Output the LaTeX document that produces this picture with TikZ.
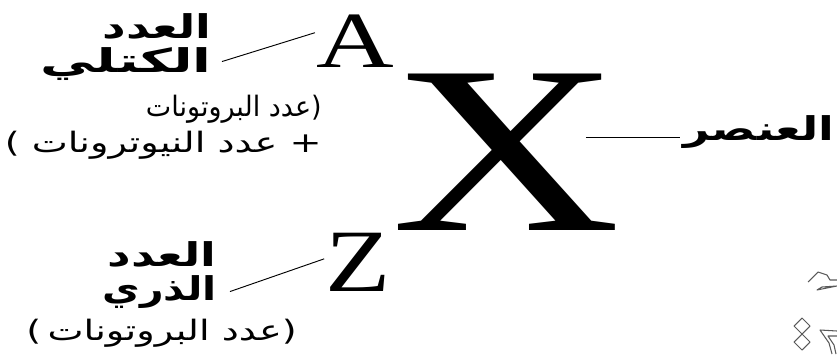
\documentclass[tikz,border=0pt]{standalone}
\usepackage{fontspec}
\setmainfont{Liberation Serif}
\newfontfamily\arabicfont[Script=Arabic]{DejaVu Sans}
\newfontfamily\markfont{DejaVu Sans}
\TeXXeTstate=1
\newcommand\arwide[2][1.4]{\scalebox{#1}[1]{#2}}
\newcommand\rtl[1]{\beginR #1\endR}
\tikzset{
  letter/.style={inner sep=0pt, anchor=base},
  artitle/.style={inner sep=0pt, anchor=base east, font=\arabicfont\bfseries\fontsize{28}{32}\selectfont},
  arnote/.style={inner sep=0pt, anchor=base east, font=\arabicfont\fontsize{24}{28}\selectfont},
  pointer/.style={line width=0.8pt},
  deco/.style={draw=black!65, line width=0.9pt, line join=round}
}
\begin{document}
\begin{tikzpicture}[x=0.03cm, y=-0.03cm]
\useasboundingbox (0,0) rectangle (837,354);
% symbols
\node[letter, font=\fontsize{204}{204}\selectfont] (elemX) at (506,230) {\scalebox{1.33}[1]{X}};
\node[letter, font=\fontsize{68}{68}\selectfont] (massA) at (355,67) {\scalebox{1.35}[1]{A}};
\node[letter, font=\fontsize{76}{76}\selectfont] (atomZ) at (358,291) {\scalebox{1.2}[1]{Z}};
% mass number
\node[artitle] (mass1) at (212,38) {\arwide{\rtl{العدد}}};
\node[artitle] (mass2) at (212,72) {\arwide[1.67]{\rtl{الكتلي}}};
\node[arnote] (mass3) at (322,116) {\arwide[0.96]{\rtl{عدد البروتونات}{\markfont)}}};
\node[arnote] (mass4) at (322,152) {\arwide[1.36]{{\markfont(} \rtl{عدد النيوترونات} {\markfont+}}};
% atomic number
\node[artitle] (atom1) at (217,266) {\arwide{\rtl{العدد}}};
\node[artitle] (atom2) at (217,300) {\arwide[1.25]{\rtl{الذري}}};
\node[arnote] (atom3) at (297,340) {\arwide[1.36]{{\markfont(}\,\rtl{عدد البروتونات}{\markfont)}}};
% element
\node[artitle] (elem) at (835,140) {\arwide{\rtl{العنصر}}};
% pointers
\draw[pointer] ([shift={(10,-2)}]mass2.east) -- ([shift={(-1,-8)}]massA.west);
\draw[pointer] ([shift={(13,0)}]atom2.east) -- ([shift={(-1,-3)}]atomZ.west);
\draw[pointer] ([xshift=-30]elemX.east |- 0,137) -- ([xshift=-3]elem.west |- 0,137);
% corner marks
\draw[deco] (808,282) -- (818,272) -- (827,275) -- (830,280) -- (837,280);
\draw[deco] (837,286) -- (822,287) -- (817,290) -- cycle;
\draw[deco] (802,318) -- (810,326) -- (802,334) -- (794,326) -- cycle;
\draw[deco] (802,334) -- (810,342) -- (802,350) -- (794,342) -- cycle;
\draw[deco] (837,331) -- (820,330) -- (829,343) -- (832,354);
\draw[deco] (837,336) -- (828,336) -- (834,345) -- (836,354);
\end{tikzpicture}
\end{document}
